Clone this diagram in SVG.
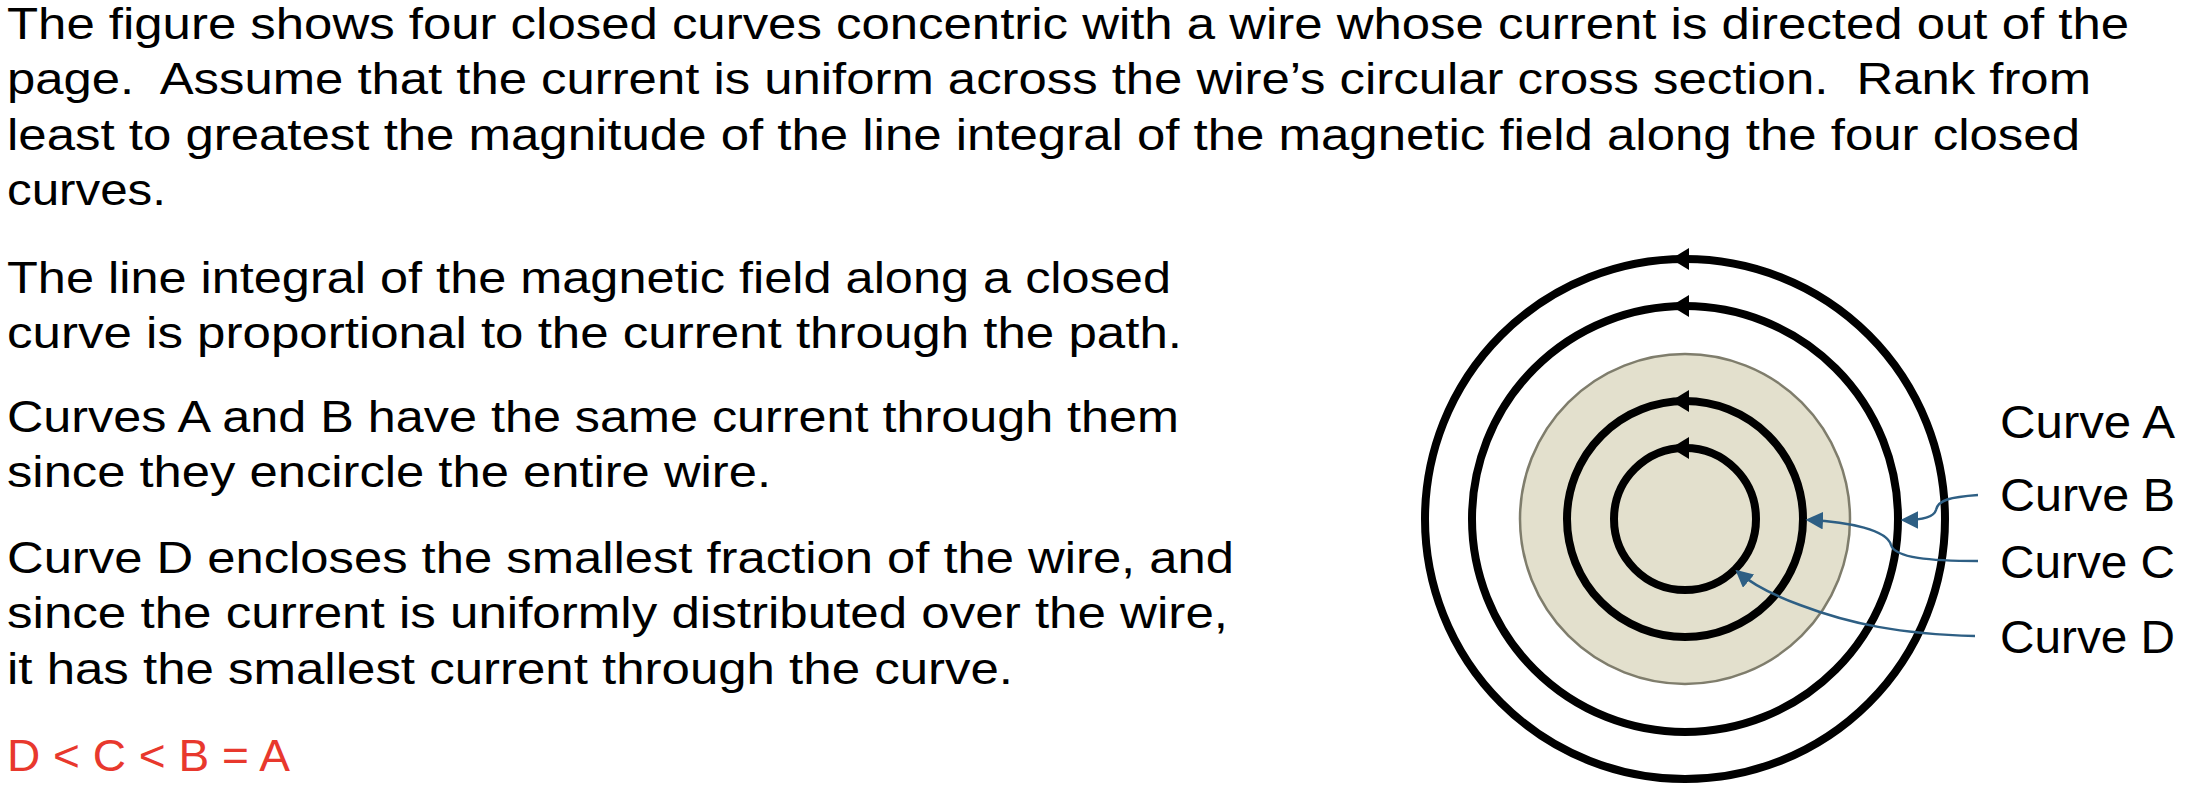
<svg xmlns="http://www.w3.org/2000/svg" width="2206" height="796" viewBox="0 0 2206 796">
<style>
text{font-family:"Liberation Sans",Arial,sans-serif;font-size:44px;fill:#000;white-space:pre}
.lbl{font-size:46px}
.ring{fill:none;stroke:#000;stroke-width:8}
.lead{fill:none;stroke:#2E5F84;stroke-width:2.5}
</style>
<defs>
<marker id="ah" viewBox="0 0 10 10" refX="8" refY="5" markerWidth="7" markerHeight="7" orient="auto-start-reverse"><path d="M0,0 L10,5 L0,10 z" fill="#2E5F84"/></marker>
</defs>
<rect width="2206" height="796" fill="#fff"/>
<g id="text">
<text x="7" y="39" textLength="2122" lengthAdjust="spacingAndGlyphs">The figure shows four closed curves concentric with a wire whose current is directed out of the</text>
<text x="7" y="94" textLength="2084" lengthAdjust="spacingAndGlyphs" xml:space="preserve">page.  Assume that the current is uniform across the wire’s circular cross section.  Rank from</text>
<text x="7" y="150" textLength="2073" lengthAdjust="spacingAndGlyphs">least to greatest the magnitude of the line integral of the magnetic field along the four closed</text>
<text x="7" y="205" textLength="159" lengthAdjust="spacingAndGlyphs">curves.</text>
<text x="7" y="293" textLength="1164" lengthAdjust="spacingAndGlyphs">The line integral of the magnetic field along a closed</text>
<text x="7" y="348" textLength="1175" lengthAdjust="spacingAndGlyphs">curve is proportional to the current through the path.</text>
<text x="7" y="432" textLength="1172" lengthAdjust="spacingAndGlyphs">Curves A and B have the same current through them</text>
<text x="7" y="487" textLength="764" lengthAdjust="spacingAndGlyphs">since they encircle the entire wire.</text>
<text x="7" y="573" textLength="1227" lengthAdjust="spacingAndGlyphs">Curve D encloses the smallest fraction of the wire, and</text>
<text x="7" y="628" textLength="1221" lengthAdjust="spacingAndGlyphs">since the current is uniformly distributed over the wire,</text>
<text x="7" y="684" textLength="1006" lengthAdjust="spacingAndGlyphs">it has the smallest current through the curve.</text>
<text x="7" y="771" textLength="283" lengthAdjust="spacingAndGlyphs" style="fill:#E8382D">D &lt; C &lt; B = A</text>
</g>
<g id="wire"><circle cx="1685" cy="519" r="165" fill="#E3E0CD" stroke="#7F7D6C" stroke-width="2.5"/></g>
<g id="curveA"><circle class="ring" cx="1685" cy="519" r="260"/><path d="M1671,259 L1689,248 L1689,270 z"/><text class="lbl" x="2000" y="438" textLength="175" lengthAdjust="spacingAndGlyphs">Curve A</text></g>
<g id="curveB"><circle class="ring" cx="1685" cy="519" r="213"/><path d="M1671,306 L1689,295 L1689,317 z"/><text class="lbl" x="2000" y="511" textLength="175" lengthAdjust="spacingAndGlyphs">Curve B</text></g>
<g id="curveC"><circle class="ring" cx="1685" cy="519" r="118"/><path d="M1671,401 L1689,390 L1689,412 z"/><text class="lbl" x="2000" y="578" textLength="175" lengthAdjust="spacingAndGlyphs">Curve C</text></g>
<g id="curveD"><circle class="ring" cx="1685" cy="519" r="71"/><path d="M1671,448 L1689,437 L1689,459 z"/><text class="lbl" x="2000" y="653" textLength="175" lengthAdjust="spacingAndGlyphs">Curve D</text></g>
<g id="connectors">
<path class="lead" marker-end="url(#ah)" d="M1978,495 C1950,497 1938,500 1936,510 C1934,517 1922,520 1904,520"/>
<path class="lead" marker-end="url(#ah)" d="M1978,561 C1930,561 1895,558 1891,545 C1887,530 1850,522 1809,520"/>
<path class="lead" marker-end="url(#ah)" d="M1975,636 C1900,634 1850,624 1800,605 C1770,594 1752,584 1738,572"/>
</g>
</svg>
